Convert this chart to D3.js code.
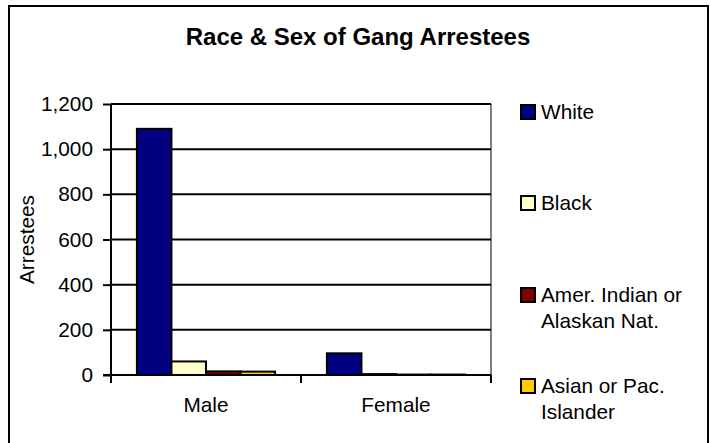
<!DOCTYPE html>
<html><head><meta charset="utf-8">
<script src="https://cdn.jsdelivr.net/npm/d3@7/dist/d3.min.js"></script>
<style>
html,body{margin:0;padding:0;background:#fff;}
svg{display:block;font-family:Arial,"Liberation Sans",sans-serif;}
</style></head>
<body>
<svg id="chart" width="710" height="443"></svg>
<script>
const categories = ["Male", "Female"];
const seriesNames = ["White", "Black", "Amer. Indian or Alaskan Nat.", "Asian or Pac. Islander"];
const legendLines = [["White"], ["Black"], ["Amer. Indian or", "Alaskan Nat."], ["Asian or Pac.", "Islander"]];
const seriesColors = ["#000080", "#FFFFCC", "#800000", "#FFCC00"];
const whiteValues = [1090, 96];
const blackValues = [60, 4];
const amerIndianValues = [16, 2];
const asianValues = [15, 2];
const yTicks = [0, 200, 400, 600, 800, 1000, 1200];
const titleText = "Race & Sex of Gang Arrestees";
const yTitle = "Arrestees";

const seriesValues = [whiteValues, blackValues, amerIndianValues, asianValues];
const svg = d3.select("#chart");
const FS = 20.8;

// outer frame
svg.append("rect").attr("x", 9).attr("y", 6).attr("width", 699).attr("height", 445)
  .attr("fill", "#fff").attr("stroke", "#000").attr("stroke-width", 2);

const plot = {left: 111, right: 491, top: 104, bottom: 375};

const x = d3.scaleBand().domain(categories).range([plot.left, plot.right]).padding(0);
const xi = d3.scaleBand().domain(seriesNames).range([0, x.bandwidth()]).paddingInner(0).paddingOuter(0.75);
const y = d3.scaleLinear().domain([0, 1200]).range([plot.bottom, plot.top]);

// plot area right border (gray)
svg.append("line").attr("x1", plot.right).attr("x2", plot.right)
  .attr("y1", plot.top).attr("y2", plot.bottom).attr("stroke", "#808080").attr("stroke-width", 2);

// gridlines
svg.append("g").selectAll("line").data(yTicks.filter(d => d > 0)).join("line")
  .attr("x1", plot.left).attr("x2", plot.right)
  .attr("y1", d => y(d)).attr("y2", d => y(d))
  .attr("stroke", "#000").attr("stroke-width", 2);

// bars
const groups = svg.append("g").selectAll("g").data(categories).join("g")
  .attr("transform", c => `translate(${x(c)},0)`);
groups.selectAll("rect").data((c, ci) => seriesNames.map((s, si) => ({s, si, v: seriesValues[si][ci]})))
  .join("rect")
  .attr("x", d => xi(d.s)).attr("width", xi.bandwidth())
  .attr("y", d => y(d.v)).attr("height", d => y(0) - y(d.v))
  .attr("fill", d => seriesColors[d.si]).attr("stroke", "#000").attr("stroke-width", 2);

// y axis
const yAxis = d3.axisLeft(y).tickValues(yTicks).tickSize(8).tickPadding(10)
  .tickFormat(d3.format(","));
const gy = svg.append("g").attr("transform", `translate(${plot.left},0)`).call(yAxis);
gy.select(".domain").attr("stroke", "#000").attr("stroke-width", 2).attr("d", `M0,${plot.top}V${plot.bottom}`);
gy.selectAll(".tick line").attr("stroke", "#000").attr("stroke-width", 2);
gy.selectAll(".tick text").attr("font-size", FS).attr("fill", "#000")
  .attr("font-family", "Arial, 'Liberation Sans', sans-serif");

// x axis
const xAxis = d3.axisBottom(x).tickSize(0).tickPadding(22);
const gx = svg.append("g").attr("transform", `translate(0,${plot.bottom})`).call(xAxis);
gx.select(".domain").attr("stroke", "#000").attr("stroke-width", 2).attr("d", `M${plot.left - 8},0H${plot.right}`);
gx.selectAll(".tick text").attr("font-size", FS).attr("fill", "#000")
  .attr("font-family", "Arial, 'Liberation Sans', sans-serif");
// category separator ticks
const sepVals = [plot.left, ...categories.slice(1).map(c => x(c)), plot.right];
gx.append("g").selectAll("line").data(sepVals).join("line")
  .attr("x1", d => d).attr("x2", d => d).attr("y1", 0).attr("y2", 8)
  .attr("stroke", "#000").attr("stroke-width", 2);

// title
svg.append("text").attr("x", 358).attr("y", 45).attr("text-anchor", "middle")
  .attr("font-size", 24).attr("font-weight", "bold").text(titleText);

// y title
svg.append("text").attr("transform", `translate(34,${(plot.top + plot.bottom) / 2}) rotate(-90)`)
  .attr("text-anchor", "middle").attr("font-size", FS).text(yTitle);

// legend
const legendBase = [119, 210, 302, 393];
const lg = svg.append("g");
legendLines.forEach((lines, i) => {
  lg.append("rect").attr("x", 521).attr("y", legendBase[i] - 14).attr("width", 14).attr("height", 14)
    .attr("fill", seriesColors[i]).attr("stroke", "#000").attr("stroke-width", 2);
  const t = lg.append("text").attr("x", 541).attr("y", legendBase[i]).attr("font-size", FS);
  lines.forEach((ln, j) => t.append("tspan").attr("x", 541).attr("dy", j === 0 ? 0 : 25.5).text(ln));
});
</script>
</body></html>
